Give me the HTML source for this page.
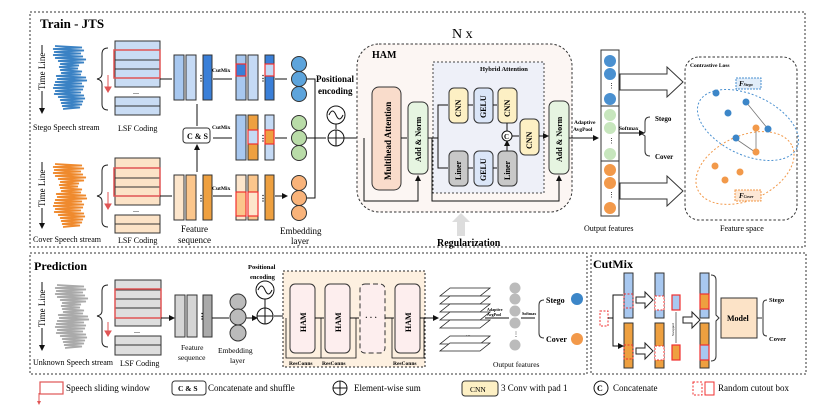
<!DOCTYPE html>
<html><head><meta charset="utf-8"><style>
html,body{margin:0;padding:0;background:#fff;}
svg{display:block;font-family:"Liberation Serif",serif;}
.b{font-weight:bold}
</style></head><body>
<svg width="830" height="416" viewBox="0 0 830 416" xmlns="http://www.w3.org/2000/svg">
<defs>
<marker id="a" markerWidth="6" markerHeight="6" refX="5" refY="3" orient="auto"><path d="M0,0 L6,3 L0,6 z" fill="#111"/></marker>
<path id="wv" d="M55,46 L82,47.5 L53,49 L84,50.5 L54,52 L81,53.5 L53,55 L83,56.5 L55,58 L86,59.5 L58,61 L84,62.5 L60,64 L79,65.5 L59,67 L78,68.5 L60,70 L82,71.5 L61,73 L81,74.5 L56,76 L86,77.5 L57,79 L87,80.5 L55,82 L82,83.5 L54,85 L84,86.5 L53,88 L83,89.5 L55,91 L81,92.5 L54,94 L84,95.5 L58,97 L85,98.5 L60,100 L83,101.5 L61,103 L82,104.5 L62,106 L80,107.5 L63,109" fill="none" stroke-width="1.8"/>
</defs>
<rect x="30" y="12" width="775" height="235" fill="none" stroke="#333" stroke-dasharray="2,2"/>
<rect x="30" y="253" width="557" height="121" fill="none" stroke="#333" stroke-dasharray="2,2"/>
<rect x="591" y="253" width="215" height="121" fill="none" stroke="#333" stroke-dasharray="2,2"/>
<text x="40" y="28" font-size="13" class="b">Train - JTS</text>

<g font-size="9">
<line x1="42" y1="45" x2="42" y2="113" stroke="#111" marker-end="url(#a)"/>
<rect x="37" y="53" width="10" height="38" fill="#fff"/>
<text transform="translate(45,90) rotate(-90)">Time Line</text>
<line x1="42" y1="162" x2="42" y2="228" stroke="#111" marker-end="url(#a)"/>
<rect x="37" y="170" width="10" height="38" fill="#fff"/>
<text transform="translate(45,207) rotate(-90)">Time Line</text>
<line x1="42" y1="282" x2="42" y2="350" stroke="#111" marker-end="url(#a)"/>
<rect x="37" y="290" width="10" height="38" fill="#fff"/>
<text transform="translate(45,327) rotate(-90)">Time Line</text>
</g>
<use href="#wv" stroke="#3b82c4"/>
<use href="#wv" stroke="#ef8a2e" transform="translate(0,118)"/>
<use href="#wv" stroke="#aaa" transform="translate(2,239)"/>
<g font-size="8">
<text x="33" y="130">Stego  Speech stream</text>
<text x="33" y="242">Cover Speech stream</text>
<text x="33" y="365">Unknown Speech stream</text>
<text x="118" y="131">LSF Coding</text>
<text x="118" y="243">LSF Coding</text>
<text x="120" y="366">LSF Coding</text>
</g>
<g fill="none" stroke="#222">
<path d="M108,48 q-6,0 -6,6 v20 q0,4 -5,5 q5,1 5,5 v20 q0,6 6,6"/>
<path d="M108,165 q-6,0 -6,6 v20 q0,4 -5,5 q5,1 5,5 v20 q0,6 6,6"/>
<path d="M108,285 q-6,0 -6,6 v20 q0,4 -5,5 q5,1 5,5 v20 q0,6 6,6"/>
</g>
<g stroke="#e05555" fill="#e05555"><line x1="108" y1="75" x2="108" y2="88"/><path d="M105,87 L108,92 L111,87z"/>
<line x1="108" y1="192" x2="108" y2="205"/><path d="M105,204 L108,209 L111,204z"/>
<line x1="108" y1="322" x2="108" y2="332"/><path d="M105,331 L108,336 L111,331z"/></g>

<g stroke="#333">
<g fill="#c9dcf4"><rect x="115" y="41" width="45" height="46"/><rect x="115" y="97" width="45" height="18"/></g>
<path d="M115,50h45M115,60h45M115,69h45M115,78h45M115,106h45"/>
<g fill="#fce3c7"><rect x="115" y="158" width="45" height="47"/><rect x="115" y="215" width="45" height="18"/></g>
<path d="M115,168h45M115,178h45M115,187h45M115,196h45M115,224h45"/>
<g fill="#dedede"><rect x="115" y="280" width="46" height="46"/><rect x="115" y="336" width="46" height="19"/></g>
<path d="M115,290h46M115,299h46M115,308h46M115,318h46M115,345h46"/>
</g>
<g fill="none" stroke="#e05555" stroke-width="1.5"><rect x="114" y="50" width="46" height="28"/><rect x="114" y="168" width="46" height="28"/><rect x="115" y="289" width="46" height="29"/></g>
<g font-size="8"><text x="133" y="94">...</text><text x="133" y="212">...</text><text x="134" y="333">...</text></g>

<g stroke="#333">
<rect x="174" y="55" width="10" height="45" fill="#a8c8f0"/><rect x="186" y="55" width="10" height="45" fill="#c5daf5"/><rect x="203" y="55" width="9" height="45" fill="#3a7fd8"/>
<rect x="174" y="175" width="10" height="45" fill="#fde6cc"/><rect x="186" y="175" width="10" height="45" fill="#fbc68c"/><rect x="203" y="175" width="9" height="45" fill="#eea040"/>
<rect x="175" y="295" width="10" height="42" fill="#d5d5d5"/><rect x="187" y="295" width="10" height="42" fill="#d5d5d5"/><rect x="203" y="295" width="9" height="42" fill="#aaa"/>
<rect x="236" y="55" width="10" height="45" fill="#a8c8f0"/><rect x="248" y="55" width="10" height="45" fill="#c5daf5"/><rect x="265" y="55" width="9" height="45" fill="#3a7fd8"/>
<rect x="236" y="115" width="10" height="45" fill="#a8c8f0"/><rect x="248" y="115" width="10" height="45" fill="#eea040"/><rect x="265" y="115" width="9" height="45" fill="#c5daf5"/>
<rect x="236" y="175" width="10" height="45" fill="#fde6cc"/><rect x="248" y="175" width="10" height="45" fill="#fbc68c"/><rect x="265" y="175" width="9" height="45" fill="#eea040"/>
</g>
<g stroke="#f03030" stroke-width="1.2">
<rect x="236" y="64" width="10" height="12" fill="#3a7fd8"/><rect x="265" y="64" width="9" height="12" fill="#c5daf5"/>
<rect x="248" y="130" width="10" height="14" fill="#c5daf5"/><rect x="265" y="130" width="9" height="14" fill="#eea040"/>
<rect x="236" y="192" width="10" height="24" fill="#fbc68c"/><rect x="248" y="192" width="10" height="24" fill="#fde6cc"/>
</g>
<g font-size="8" class="b"><text x="197" y="81">⋮</text><text x="259" y="81">⋮</text><text x="259" y="141">⋮</text><text x="197" y="201">⋮</text><text x="259" y="201">⋮</text><text x="198" y="319">⋮</text></g>
<g font-size="5.5" class="b"><text x="212" y="72">CutMix</text><text x="212" y="129">CutMix</text><text x="212" y="190">CutMix</text></g>
<g stroke="#111" fill="none">
<path d="M160,79H172M160,196H172M161,318H174" marker-end="url(#a)"/>
<path d="M213,79H232M213,138H232M213,196H232M275,79H287M275,138H287M275,196H287" marker-end="url(#a)"/>
<path d="M197,104V126M197,172V145" marker-end="url(#a)"/>
<path d="M212,318H229M246,318H257" marker-end="url(#a)"/>
</g>
<rect x="183" y="128" width="27" height="15" rx="3" fill="#fff" stroke="#333"/>
<text x="187" y="139" font-size="8" class="b">C &amp; S</text>
<g font-size="9"><text x="181" y="232">Feature</text><text x="178" y="243">sequence</text><text x="280" y="234">Embedding</text><text x="291" y="244">layer</text>
<text x="181" y="350" font-size="7.5">Feature</text><text x="178" y="360" font-size="7.5">sequence</text><text x="218" y="353" font-size="7.5">Embedding</text><text x="230" y="363" font-size="7.5">layer</text></g>

<g stroke="#333">
<g fill="#5da4dc"><circle cx="299" cy="64" r="7.5"/><circle cx="299" cy="79" r="7.5"/><circle cx="299" cy="94" r="7.5"/></g>
<g fill="#b9dca8"><circle cx="299" cy="123" r="7.5"/><circle cx="299" cy="138" r="7.5"/><circle cx="299" cy="153" r="7.5"/></g>
<g fill="#f9b37a"><circle cx="299" cy="183" r="7.5"/><circle cx="299" cy="198" r="7.5"/><circle cx="299" cy="213" r="7.5"/></g>
<g fill="#bbb"><circle cx="238" cy="302" r="8"/><circle cx="238" cy="317" r="8"/><circle cx="238" cy="333" r="8"/></g>
</g>
<g stroke="#111" fill="none">
<path d="M307,79H315V198H307M307,138H326" />
<path d="M344,138H372" marker-end="url(#a)"/>
<path d="M336,124V129"/>
<path d="M274,316H288" marker-end="url(#a)"/>
</g>
<g font-size="9" class="b"><text x="316" y="82">Positional</text><text x="318" y="94">encoding</text></g>
<g font-size="6.5" class="b"><text x="248" y="269">Positional</text><text x="250" y="279">encoding</text></g>
<g stroke="#111" fill="#fff">
<circle cx="336" cy="115" r="9"/><path d="M329,115 q3.5,-8 7,0 t7,0" fill="none"/>
<circle cx="336" cy="138" r="8"/><path d="M328,138h16M336,130v16"/>
<circle cx="265" cy="290" r="9"/><path d="M258,290 q3.5,-8 7,0 t7,0" fill="none"/>
<circle cx="265" cy="316" r="8"/><path d="M257,316h16M265,308v16"/>
<path d="M265,299v9" fill="none"/>
</g>

<text x="452" y="38" font-size="14">N x</text>
<rect x="357" y="44" width="215" height="168" rx="22" fill="#fcf6f3" stroke="#333" stroke-dasharray="2.5,2"/>
<text x="372" y="58" font-size="10" class="b">HAM</text>
<rect x="433" y="62" width="111" height="131" fill="#eef0f8" stroke="#444" stroke-dasharray="2,2"/>
<text x="480" y="71" font-size="6.5" class="b">Hybrid Attention</text>
<g stroke="#333">
<rect x="372" y="87" width="29" height="103" rx="7" fill="#f9dccb"/>
<rect x="408" y="102" width="20" height="72" rx="6" fill="#e6f5e1"/>
<rect x="549" y="101" width="20" height="73" rx="6" fill="#e6f5e1"/>
<rect x="449" y="88" width="19" height="35" rx="5" fill="#fdf0c4"/>
<rect x="474" y="88" width="19" height="35" rx="5" fill="#dbe6f8"/>
<rect x="498" y="88" width="19" height="35" rx="5" fill="#fdf0c4"/>
<rect x="520" y="119" width="19" height="36" rx="5" fill="#fdf0c4"/>
<rect x="449" y="151" width="19" height="35" rx="5" fill="#c8c8c8"/>
<rect x="474" y="151" width="19" height="35" rx="5" fill="#dbe6f8"/>
<rect x="498" y="151" width="19" height="35" rx="5" fill="#c8c8c8"/>
</g>
<g font-size="8" class="b">
<text transform="translate(391,180) rotate(-90)" font-size="9">Multihead Attention</text>
<text transform="translate(421,162) rotate(-90)">Add  &amp; Norm</text>
<text transform="translate(562,162) rotate(-90)">Add  &amp; Norm</text>
<text transform="translate(461,117) rotate(-90)">CNN</text>
<text transform="translate(486,118) rotate(-90)">GELU</text>
<text transform="translate(510,117) rotate(-90)">CNN</text>
<text transform="translate(532,149) rotate(-90)">CNN</text>
<text transform="translate(461,180) rotate(-90)">Liner</text>
<text transform="translate(486,181) rotate(-90)">GELU</text>
<text transform="translate(510,180) rotate(-90)">Liner</text>
</g>
<g stroke="#111" fill="none">
<path d="M401,138H407M428,138H438V105H448M438,138V168H448M468,105H473M493,105H497M468,168H473M493,168H497M512,136H519M539,136H548" marker-end="url(#a)"/>
<path d="M364,138V201H418V176" marker-end="url(#a)"/>
<path d="M432,138V201H559V176" marker-end="url(#a)"/>
<path d="M507,123V131M507,151V141" marker-end="url(#a)"/>
<path d="M569,138H598" marker-end="url(#a)"/>
</g>
<circle cx="507" cy="136" r="5" fill="#fff" stroke="#111"/><text x="504" y="139" font-size="7" class="b">C</text>
<path d="M461,213 l-9,9 h5 v14 h8 v-14 h5z" fill="#ddd"/>
<text x="437" y="246" font-size="10" class="b">Regularization</text>

<rect x="601" y="50" width="18" height="166" fill="#fff" stroke="#333"/>
<path d="M601,106h18M601,161h18" stroke="#333"/>
<g fill="#4a90d0"><circle cx="610" cy="61" r="6"/><circle cx="610" cy="74" r="6"/><circle cx="610" cy="99" r="6"/></g>
<g fill="#c7e6bd"><circle cx="610" cy="115" r="6"/><circle cx="610" cy="128" r="6"/><circle cx="610" cy="154" r="6"/></g>
<g fill="#f2994a"><circle cx="610" cy="170" r="6"/><circle cx="610" cy="183" r="6"/><circle cx="610" cy="208" r="6"/></g>
<g font-size="7"><text x="608" y="88">⋮</text><text x="608" y="143">⋮</text><text x="608" y="197">⋮</text></g>
<g font-size="5.5" class="b"><text x="574" y="124">Adaptive</text><text x="573" y="131">AvgPool</text><text x="619" y="130">Softmax</text></g>
<path d="M619,133H644" stroke="#111" marker-end="url(#a)"/>
<path d="M650,117 q-5,0 -5,5 v10 l-3,2 l3,2 v15 q0,5 5,5" fill="none" stroke="#333"/>
<g font-size="7" class="b"><text x="655" y="121">Stego</text><text x="655" y="159">Cover</text></g>
<text x="584" y="231" font-size="8">Output features</text>
<g fill="#fff" stroke="#333"><path d="M620,74h47v-7l16,15l-16,15v-7h-47z"/><path d="M620,183h47v-7l16,15l-16,15v-7h-47z"/></g>

<rect x="685" y="57" width="112" height="163" rx="14" fill="#fff" stroke="#333" stroke-dasharray="2.5,2"/>
<text x="690" y="67" font-size="5.5" class="b">Contrastive Loss</text>
<ellipse cx="748" cy="125" rx="54" ry="30" transform="rotate(25 748 125)" fill="none" stroke="#4a90d0" stroke-dasharray="2,2"/>
<ellipse cx="745" cy="168" rx="52" ry="32" transform="rotate(-25 745 168)" fill="none" stroke="#f2994a" stroke-dasharray="2,2"/>
<rect x="736" y="78" width="25" height="11" fill="#e1edf9" stroke="#4a90d0" stroke-dasharray="2,1"/>
<text x="739" y="86" font-size="7" class="b" font-style="italic">F<tspan font-size="4">Stego</tspan></text>
<rect x="735" y="190" width="26" height="11" fill="#fde8d5" stroke="#f2994a" stroke-dasharray="2,1"/>
<text x="739" y="198" font-size="7" class="b" font-style="italic">F<tspan font-size="4">Cover</tspan></text>
<path d="M746,102 L768,129M756,128V152M736,139L755,152" stroke="#777" stroke-width=".8"/>
<g fill="#3c86c8"><circle cx="716" cy="93" r="3.5"/><circle cx="746" cy="102" r="3.5"/><circle cx="728" cy="113" r="3.5"/><circle cx="768" cy="129" r="3.5"/><circle cx="736" cy="138" r="3.5"/></g>
<g fill="#f2994a"><circle cx="756" cy="128" r="3.5"/><circle cx="756" cy="152" r="3.5"/><circle cx="715" cy="166" r="3.5"/><circle cx="740" cy="172" r="3.5"/><circle cx="725" cy="180" r="3.5"/></g>
<text x="720" y="231" font-size="8">Feature space</text>

<text x="34" y="270" font-size="12" class="b">Prediction</text>
<rect x="283" y="271" width="142" height="96" fill="#fdf0e0" stroke="#222" stroke-dasharray="2,2"/>
<g stroke="#333">
<rect x="290" y="284" width="25" height="69" rx="5" fill="#fdeeee"/>
<rect x="325" y="284" width="25" height="69" rx="5" fill="#fdeeee"/>
<rect x="360" y="284" width="25" height="69" rx="5" fill="#fdeeee" stroke-dasharray="5,3"/>
<rect x="395" y="284" width="25" height="69" rx="5" fill="#fdeeee"/>
</g>
<g font-size="8" class="b">
<text transform="translate(306,332) rotate(-90)">HAM</text><text transform="translate(341,332) rotate(-90)">HAM</text><text transform="translate(411,332) rotate(-90)">HAM</text>
<text x="365" y="320">· · ·</text></g>
<g stroke="#111" fill="none">
<path d="M315,318H324M350,318H359M385,318H394M420,318H438" marker-end="url(#a)"/>
<path d="M286,318V358H321V318M321,318V358H356V318M392,318V358H424V318" stroke-width=".8"/>
</g>
<g font-size="5.5" class="b"><text x="289" y="365">ResConns</text><text x="322" y="365">ResConns</text><text x="393" y="365">ResConns</text></g>
<g fill="#fff" stroke="#222" stroke-width=".8">
<path d="M450,288h40l-10,8h-40z"/><path d="M450,296h40l-10,8h-40z"/><path d="M450,304h40l-10,8h-40z"/><path d="M450,312h40l-10,8h-40z"/><path d="M450,320h40l-10,8h-40z"/>
<path d="M450,336h40l-10,8h-40z"/><path d="M450,343h40l-10,8h-40z"/>
</g>
<text x="466" y="336" font-size="6">...</text>
<g font-size="4" class="b"><text x="487" y="311">Adaptive</text><text x="487" y="316">AvgPool</text><text x="522" y="315">Softmax</text></g>
<path d="M485,318H509M521,318H535" stroke="#111"/>
<g fill="#bbb"><circle cx="515" cy="288" r="5.5"/><circle cx="515" cy="299" r="5.5"/><circle cx="515" cy="311" r="5.5"/><circle cx="515" cy="323" r="5.5"/><circle cx="515" cy="345" r="5.5"/></g>
<text x="513" y="336" font-size="6">⋮</text>
<path d="M544,300 q-5,0 -5,5 v28 q0,5 5,5" fill="none" stroke="#333"/>
<g font-size="8" class="b"><text x="546" y="303">Stego</text><text x="546" y="342">Cover</text></g>
<circle cx="577" cy="299" r="6" fill="#3c86c8"/><circle cx="577" cy="339" r="6" fill="#f2994a"/>
<text x="493" y="367" font-size="7.5">Output features</text>

<text x="593" y="268" font-size="12" class="b">CutMix</text>
<g stroke="#333">
<rect x="624" y="273" width="9" height="45" fill="#a8c8f0"/><rect x="624" y="323" width="9" height="45" fill="#eea040"/>
<rect x="655" y="273" width="9" height="45" fill="#a8c8f0"/><rect x="655" y="323" width="9" height="45" fill="#eea040"/>
<rect x="700" y="273" width="9" height="45" fill="#a8c8f0"/><rect x="700" y="323" width="9" height="45" fill="#eea040"/>
<rect x="721" y="298" width="36" height="40" fill="#fce3c7"/>
</g>
<g stroke="#f03030" stroke-dasharray="2,1.5" fill="none"><rect x="624" y="294" width="9" height="14"/><rect x="624" y="345" width="9" height="14"/><rect x="600" y="311" width="8" height="15"/></g>
<g stroke="#f03030" stroke-dasharray="2,1.5" fill="#fff"><rect x="655" y="296" width="9" height="14"/><rect x="655" y="346" width="9" height="14"/></g>
<g stroke="#f03030" stroke-width="1.2"><rect x="672" y="295" width="8" height="15" fill="#a8c8f0"/><rect x="672" y="345" width="8" height="15" fill="#eea040"/>
<rect x="700" y="294" width="9" height="15" fill="#eea040"/><rect x="700" y="345" width="9" height="15" fill="#a8c8f0"/></g>
<g stroke="#111" fill="none"><path d="M608,318H613V295H623M613,318V346H623" marker-end="url(#a)"/>
<path d="M676,312V343M676,343V312" stroke-width=".6"/></g>
<text transform="translate(674,336) rotate(-90)" font-size="3.5">Swapped</text>
<g fill="#fff" stroke="#222"><path d="M636,297h9v-5l8,8l-8,8v-5h-9z"/><path d="M636,348h9v-5l8,8l-8,8v-5h-9z"/><path d="M683,317h9v-5l8,8l-8,8v-5h-9z"/></g>
<path d="M711,275 q5,0 5,5 v35 l3,3 l-3,3 v35 q0,5 -5,5" fill="none" stroke="#333"/>
<text x="727" y="321" font-size="8" class="b">Model</text>
<path d="M757,318h5M767,300 q-4,0 -4,4 v28 q0,4 4,4" fill="none" stroke="#333"/>
<g font-size="6.5" class="b"><text x="769" y="302">Stego</text><text x="769" y="341">Cover</text></g>

<g font-size="9">
<rect x="40" y="382" width="23" height="12" fill="none" stroke="#e05555" stroke-width="1.2"/>
<path d="M39,393v9" stroke="#e05555"/><path d="M37,401l2,4l2,-4z" fill="#e05555"/>
<text x="66" y="391">Speech sliding window</text>
<rect x="172" y="381" width="34" height="14" rx="3" fill="#fff" stroke="#333"/>
<text x="178" y="391" font-size="7.5" class="b">C &amp; S</text>
<text x="208" y="391">Concatenate and shuffle</text>
<circle cx="340" cy="388" r="7" fill="none" stroke="#111"/><path d="M333,388h14M340,381v14" stroke="#111"/>
<text x="354" y="391">Element-wise sum</text>
<rect x="462" y="381" width="36" height="15" rx="3" fill="#fdf0c4" stroke="#333"/>
<text x="470" y="392" font-size="7.5">CNN</text>
<text x="501" y="391">3 Conv with pad 1</text>
<circle cx="601" cy="388" r="7" fill="none" stroke="#111"/><text x="597" y="391" font-size="8" class="b">C</text>
<text x="613" y="391">Concatenate</text>
<rect x="693" y="382" width="9" height="13" fill="none" stroke="#f03030" stroke-dasharray="2,1.5"/>
<rect x="705" y="382" width="9" height="13" fill="none" stroke="#f03030"/>
<text x="718" y="391">Random cutout box</text>
</g>
</svg>
</body></html>
